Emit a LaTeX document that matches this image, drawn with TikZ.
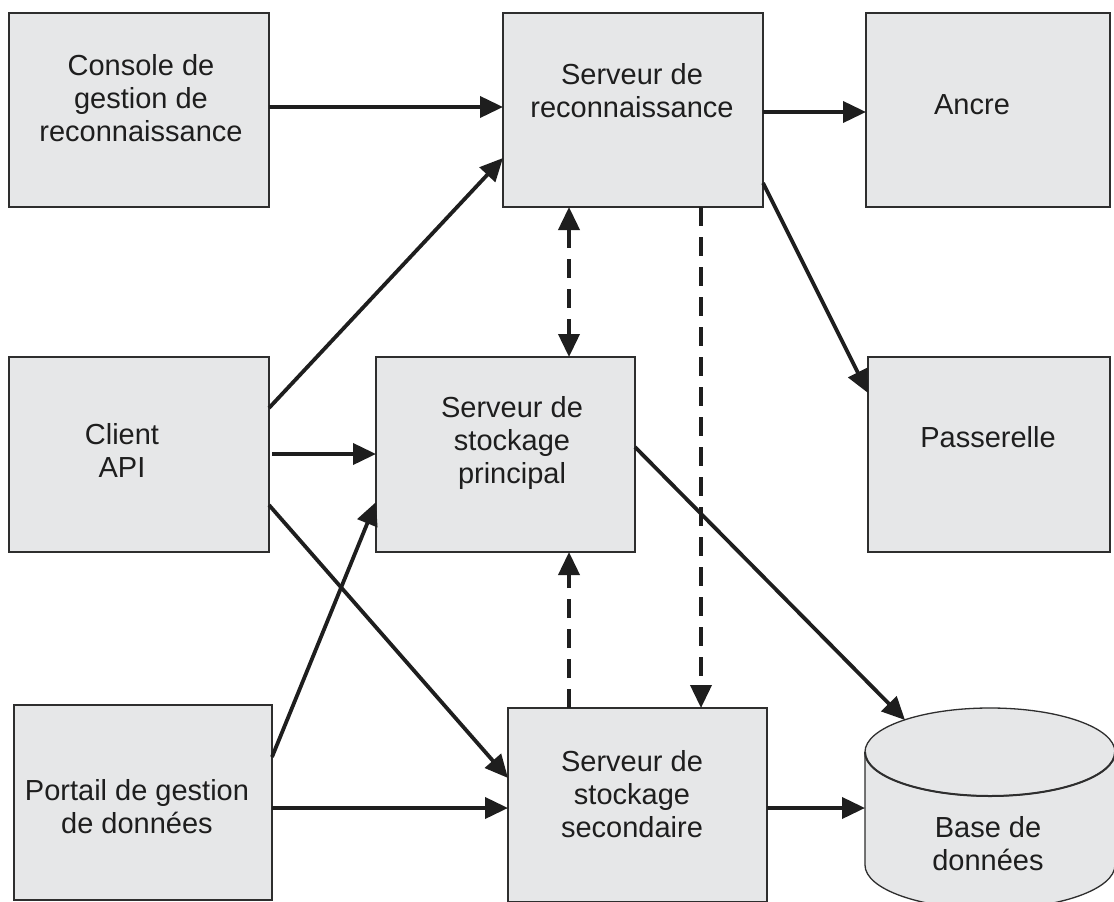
\documentclass[tikz,border=0pt]{standalone}
\usepackage{fontspec}
\setmainfont{Liberation Sans}
\usetikzlibrary{arrows.meta}
\definecolor{boxgrey}{HTML}{E6E7E8}
\definecolor{edgegrey}{HTML}{2E2E2E}
\definecolor{ink}{HTML}{1E1E1E}
\begin{document}
\begin{tikzpicture}[x=1pt,y=-1pt,
  box/.style={draw=edgegrey, line width=1.3pt, fill=boxgrey, inner sep=0pt, outer sep=0pt},
  lbl/.style={align=center, inner sep=0pt, text=ink, font=\fontsize{29}{33}\selectfont},
  flow/.style={line width=3.8pt, draw=ink, -{Triangle[length=23pt,width=21pt]}},
  flowdash/.style={flow, dash pattern=on 19pt off 11pt},
  flowdashboth/.style={flowdash, {Triangle[length=23pt,width=21pt]}-{Triangle[length=23pt,width=21pt]}}
]
\fill[white] (0,0) rectangle (1114,902);
\useasboundingbox (0,0) rectangle (1114,902);

% boxes
\node[box, minimum width=260pt, minimum height=194pt] (console) at (139,110) {};
\node[box, minimum width=260pt, minimum height=194pt] (recon) at (633,110) {};
\node[box, minimum width=244pt, minimum height=194pt] (ancre) at (988,110) {};
\node[box, minimum width=260pt, minimum height=195pt] (client) at (139,454.5) {};
\node[box, minimum width=259pt, minimum height=195pt] (principal) at (505.5,454.5) {};
\node[box, minimum width=242pt, minimum height=195pt] (passerelle) at (989,454.5) {};
\node[box, minimum width=258pt, minimum height=195pt] (portail) at (143,802.5) {};
\node[box, minimum width=259pt, minimum height=194pt] (secondaire) at (637.5,805) {};

% database cylinder
\fill[boxgrey] (990,865) ellipse [x radius=125pt, y radius=44pt];
\fill[boxgrey] (865,752) rectangle (1115,865);
\draw[edgegrey, line width=1.3pt, fill=boxgrey]
  (865,752) -- (865,865) arc[start angle=180, end angle=360, x radius=125pt, y radius=44pt] -- (1115,752);
\draw[edgegrey, line width=1.3pt, fill=boxgrey] (990,752) ellipse [x radius=125pt, y radius=44pt];
\draw[edgegrey, line width=2pt] (865,752) arc[start angle=180, end angle=360, x radius=125pt, y radius=44pt];
\node[inner sep=0pt, outer sep=0pt, minimum width=250pt, minimum height=201pt] (db) at (990,808.5) {};
\coordinate (dbtop) at (905,720);

% labels
\node[lbl] at (141,98) {Console de\\gestion de\\reconnaissance};
\node[lbl] at (632,91) {Serveur de\\reconnaissance};
\node[lbl] at (972,105) {Ancre};
\node[lbl] at (122,450.5) {Client\\API};
\node[lbl] at (512,443) {Serveur de\\stockage\\principal};
\node[lbl] at (988,437) {Passerelle};
\node[lbl] at (137,807) {Portail de gestion\\de données};
\node[lbl] at (632,794) {Serveur de\\stockage\\secondaire};
\node[lbl] at (988,844) {Base de\\données};

% connectors
\draw[flow] (console.east |- 0,107) -- (recon.west |- 0,107);
\draw[flow] (client.east |- 0,408) -- (recon.west |- 0,158);
\draw[flow] (recon.east |- 0,112) -- (ancre.west |- 0,112);
\draw[flow] (recon.east |- 0,183) -- (passerelle.west |- 0,393);
\draw[flowdashboth] (recon.south -| 569,0) -- (principal.north -| 569,0);
\draw[flowdash] (recon.south -| 701,0) -- (secondaire.north -| 701,0);
\draw[flow] ([xshift=3pt]client.east |- 0,454) -- (principal.west |- 0,454);
\draw[flow] (client.east |- 0,505) -- (secondaire.west |- 0,778);
\draw[flow] (portail.east |- 0,757) -- (principal.west |- 0,502);
\draw[flow] (principal.east |- 0,447) -- (dbtop);
\draw[flowdash] (secondaire.north -| 569,0) -- (principal.south -| 569,0);
\draw[flow] (portail.east |- 0,808) -- (secondaire.west |- 0,808);
\draw[flow] (secondaire.east |- 0,808) -- (db.west |- 0,808);
\end{tikzpicture}
\end{document}
